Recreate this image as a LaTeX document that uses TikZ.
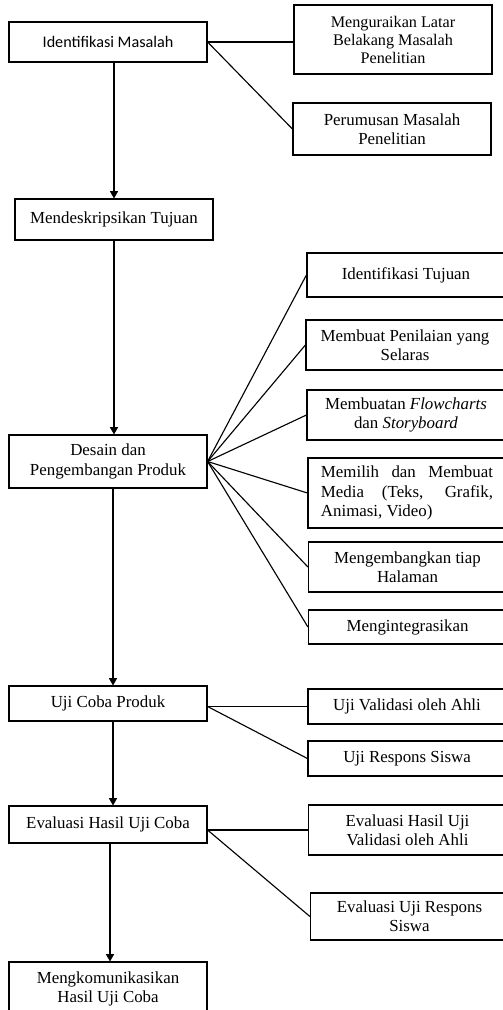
\documentclass[tikz,border=0pt]{standalone}
\usepackage{fontspec}
\setmainfont{Liberation Serif}
\newfontfamily\calibrifont{Carlito}
\usetikzlibrary{arrows.meta, calc}
\hyphenpenalty=10000

\begin{document}
\begin{tikzpicture}[
  x=0.025cm, y=-0.025cm,
  box/.style={draw, line width=0.8pt, minimum width=4.95cm, align=center,
              inner sep=2pt, font=\fontsize{12}{13.6}\selectfont},
  arrow/.style={-{Triangle[length=0.18cm, width=0.2cm]}, line width=0.8pt},
  link/.style={line width=0.8pt}
]
  \useasboundingbox (0,0) rectangle (503,1010);
  \clip (0,0) rectangle (503,1010);

  % main steps
  \node[box, minimum height=1cm, font=\calibrifont\fontsize{11.5}{13.5}\selectfont]
    (idm) at (108,42) {Identifikasi Masalah};
  \node[box, minimum height=1.025cm] (tujuan) at (114,219.5) {Mendeskripsikan Tujuan};
  \node[box, minimum height=1.325cm] (desain) at (108,461.5) {Desain dan\\Pengembangan Produk};
  \node[box, minimum height=0.875cm] (ujicoba) at (108,703.5) {Uji Coba Produk};
  \node[box, minimum height=0.925cm] (evaluasi) at (108,824.5) {Evaluasi Hasil Uji Coba};
  \node[box, minimum height=1.325cm] (komunikasi) at (108,988.5) {Mengkomunikasikan\\Hasil Uji Coba};

  % side steps
  \node[box, minimum height=1.725cm, font=\fontsize{11.5}{12.8}\selectfont]
    (latar) at (393,39.5) {Menguraikan Latar\\Belakang Masalah\\Penelitian};
  \node[box, minimum height=1.3cm] (rumus) at (392,129) {Perumusan Masalah\\Penelitian};

  \node[box, minimum height=1.1cm] (idt) at (406,275) {Identifikasi Tujuan};
  \node[box, minimum height=1.25cm] (nilai) at (405,345) {Membuat Penilaian yang\\Selaras};
  \node[box, minimum height=1.25cm] (flow) at (406,415) {Membuatan \textit{Flowcharts}\\dan \textit{Storyboard}};
  \node[box, minimum height=1.75cm, text width=4.3cm, align=justify]
    (media) at (407,493) {Memilih dan Membuat Media (Teks, Grafik, Animasi, Video)};
  \node[box, minimum height=1.25cm] (halaman) at (407.5,567) {Mengembangkan tiap\\Halaman};
  \node[box, minimum height=0.85cm] (integ) at (407.5,627) {Mengintegrasikan};

  \node[box, minimum height=0.875cm] (validasi) at (407,706.5) {Uji Validasi oleh Ahli};
  \node[box, minimum height=0.875cm] (respons) at (407,758.5) {Uji Respons Siswa};

  \node[box, minimum height=1.25cm] (evalval) at (407.5,830) {Evaluasi Hasil Uji\\Validasi oleh Ahli};
  \node[box, minimum height=1.175cm] (evalresp) at (409.5,916.5) {Evaluasi Uji Respons\\Siswa};

  % flow down the main column
  \draw[arrow] (tujuan.north |- idm.south) -- (tujuan.north);
  \draw[arrow] (tujuan.south) -- (tujuan.south |- desain.north);
  \draw[arrow] ($(desain.south)+(5,0)$) -- ($(ujicoba.north)+(5,0)$);
  \draw[arrow] ($(ujicoba.south)+(5,0)$) -- ($(evaluasi.north)+(5,0)$);
  \draw[arrow] ($(evaluasi.south)+(2,0)$) -- ($(komunikasi.north)+(2,0)$);

  % branches to the right
  \draw[link] (idm.east) -- (idm.east -| latar.west);
  \draw[link] (idm.east) -- (rumus.west);
  \foreach \n in {idt,nilai,flow,media,halaman,integ}
    \draw[link] (desain.east) -- (\n.west);
  \draw[link] (ujicoba.east |- validasi.west) -- (validasi.west);
  \draw[link] (ujicoba.east |- validasi.west) -- (respons.west);
  \draw[link] (evaluasi.east |- evalval.west) -- (evalval.west);
  \draw[link] (evaluasi.east |- evalval.west) -- (evalresp.west);
\end{tikzpicture}
\end{document}
